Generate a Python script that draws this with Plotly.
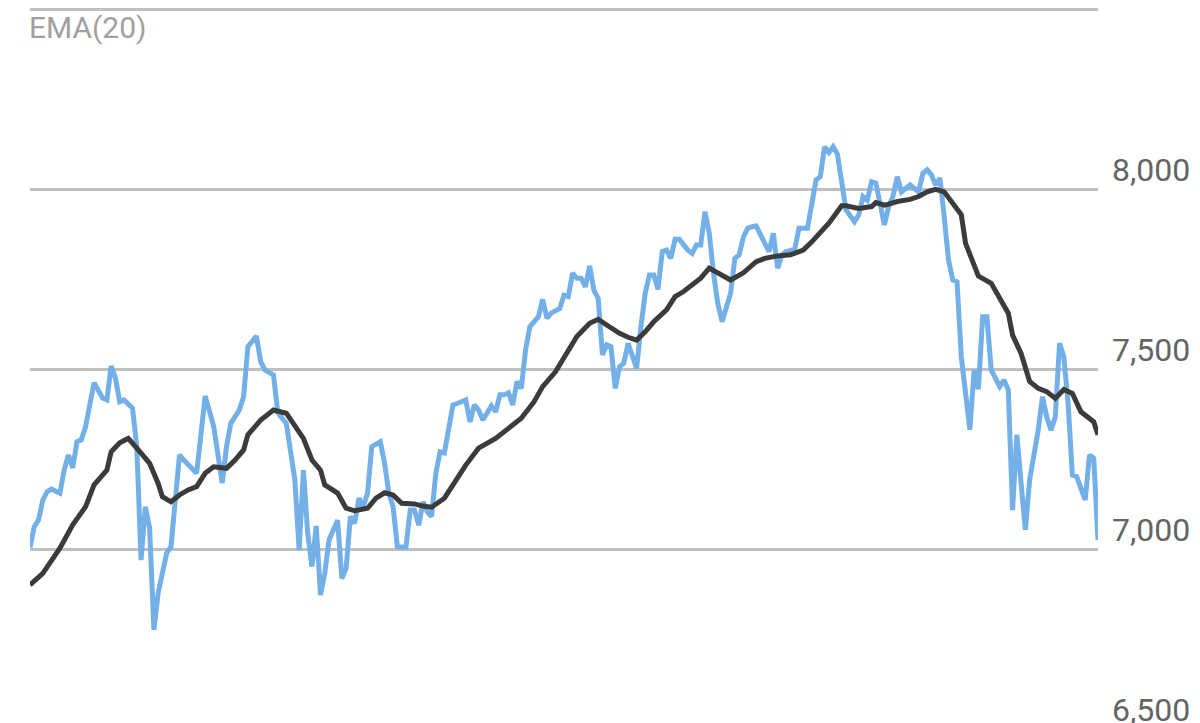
import plotly.graph_objects as go

# Trading-day index (0..250) and price (blue line)
price_day = [0, 1, 2, 3, 4, 5, 7, 8, 9, 10, 11, 12, 13, 14, 15, 17, 18, 19, 20, 21,
             22, 24, 25, 26, 27, 28, 29, 30, 32, 33, 34, 35, 36, 37, 39, 40, 41, 43, 44, 45,
             46, 47, 49, 50, 51, 53, 54, 55, 57, 58, 59, 60, 62, 63, 64, 65, 66, 67, 68, 69,
             70, 72, 73, 74, 75, 76, 77, 78, 79, 80, 82, 83, 84, 85, 86, 88, 89, 90, 91, 92,
             93, 94, 95, 96, 97, 98, 99, 100, 102, 103, 104, 105, 106, 108, 109, 110, 111, 112, 113, 114,
             115, 116, 117, 119, 120, 121, 122, 124, 125, 126, 127, 128, 129, 130, 131, 132, 133, 134, 135, 136,
             137, 138, 139, 140, 142, 143, 144, 145, 146, 147, 148, 149, 150, 151, 152, 154, 155, 156, 157, 158,
             159, 160, 161, 162, 163, 164, 165, 166, 167, 168, 169, 170, 172, 173, 174, 175, 176, 177, 179, 180,
             182, 183, 184, 185, 186, 187, 188, 189, 190, 191, 193, 194, 195, 196, 197, 198, 200, 201, 202, 203,
             204, 206, 208, 209, 210, 211, 212, 213, 214, 215, 216, 217, 218, 219, 220, 221, 222, 223, 224, 225,
             227, 228, 229, 230, 231, 232, 233, 234, 236, 237, 238, 239, 240, 241, 242, 243, 244, 245, 247, 248,
             249, 250]
price = [7005, 7063, 7081, 7137, 7160, 7167, 7156, 7220, 7262, 7226, 7299, 7304, 7340, 7406, 7463, 7420, 7415, 7509, 7476, 7410,
         7415, 7392, 7285, 6970, 7118, 7059, 6776, 6879, 6990, 7007, 7156, 7262, 7248, 7234, 7211, 7317, 7426, 7341, 7262, 7184,
         7285, 7350, 7387, 7424, 7563, 7592, 7521, 7498, 7484, 7380, 7364, 7350, 7193, 6998, 7220, 7045, 6952, 7065, 6873, 6933,
         7026, 7081, 6919, 6947, 7091, 7072, 7142, 7118, 7156, 7285, 7299, 7239, 7156, 7118, 7007, 7006, 7109, 7109, 7067, 7132,
         7104, 7091, 7211, 7271, 7268, 7331, 7401, 7405, 7415, 7354, 7401, 7387, 7359, 7398, 7382, 7429, 7429, 7435, 7401, 7466,
         7447, 7554, 7618, 7646, 7694, 7642, 7656, 7669, 7706, 7702, 7767, 7753, 7753, 7729, 7787, 7720, 7697, 7540, 7568, 7563,
         7447, 7507, 7517, 7572, 7503, 7618, 7711, 7762, 7762, 7722, 7827, 7831, 7808, 7861, 7861, 7831, 7822, 7845, 7845, 7938,
         7878, 7767, 7683, 7632, 7674, 7711, 7808, 7818, 7868, 7892, 7896, 7898, 7850, 7827, 7878, 7781, 7818, 7827, 7833, 7892,
         7892, 7961, 8026, 8035, 8118, 8102, 8118, 8098, 8026, 7943, 7910, 7929, 7980, 7970, 8021, 8017, 7901, 7952, 7980, 8035,
         7993, 8012, 7993, 8044, 8054, 8040, 8012, 8031, 7924, 7804, 7748, 7743, 7535, 7424, 7332, 7498, 7445, 7646, 7646, 7498,
         7452, 7470, 7443, 7109, 7318, 7183, 7054, 7193, 7331, 7424, 7368, 7331, 7368, 7572, 7535, 7406, 7206, 7202, 7137, 7262,
         7253, 7026]

# EMA(20) (dark line)
ema_day = [0, 3, 7, 10, 13, 15, 18, 19, 21, 23, 26, 28, 30, 31, 33, 35, 37, 39, 41, 43,
           46, 48, 50, 51, 54, 57, 60, 63, 64, 66, 68, 69, 72, 74, 76, 79, 81, 83, 85, 87,
           90, 92, 94, 97, 99, 101, 102, 105, 109, 112, 115, 118, 120, 123, 126, 128, 131, 133, 135, 138,
           140, 142, 144, 146, 149, 151, 153, 157, 159, 162, 164, 167, 170, 172, 175, 178, 181, 183, 187, 190,
           191, 194, 197, 198, 200, 201, 203, 206, 208, 210, 212, 214, 216, 218, 219, 221, 222, 225, 227, 229,
           230, 232, 234, 236, 238, 240, 242, 244, 246, 249, 250]
ema = [6901, 6933, 7003, 7068, 7118, 7179, 7220, 7271, 7296, 7308, 7267, 7239, 7183, 7146, 7132, 7151, 7165, 7174, 7211, 7229,
       7225, 7248, 7276, 7318, 7359, 7387, 7378, 7327, 7308, 7248, 7220, 7179, 7156, 7114, 7107, 7114, 7142, 7157, 7151, 7128,
       7126, 7120, 7117, 7142, 7179, 7216, 7234, 7281, 7308, 7336, 7364, 7410, 7452, 7493, 7549, 7591, 7628, 7639, 7623, 7600,
       7589, 7581, 7604, 7632, 7665, 7702, 7716, 7753, 7781, 7762, 7748, 7768, 7799, 7808, 7815, 7818, 7831, 7854, 7906, 7954,
       7954, 7947, 7952, 7963, 7956, 7959, 7966, 7972, 7980, 7993, 8000, 7993, 7961, 7929, 7850, 7785, 7759, 7739, 7697, 7656,
       7595, 7544, 7466, 7447, 7438, 7419, 7444, 7433, 7382, 7354, 7318]

tick_values = [6500, 7000, 7500, 8000]
tick_text = ["6,500", "7,000", "7,500", "8,000"]
y_range = [6517.5, 8503.6]

fig = go.Figure()
fig.add_trace(go.Scatter(x=price_day, y=price, mode="lines",
                         line=dict(color="#74b0e8", width=5), hoverinfo="skip"))
fig.add_trace(go.Scatter(x=ema_day, y=ema, mode="lines",
                         line=dict(color="#3b3b3b", width=5), hoverinfo="skip"))

annotations = []
for v, t in zip(tick_values, tick_text):
    if v >= y_range[0]:
        yv, yr = v, "y"
    else:
        yv, yr = (v - y_range[0]) / (y_range[1] - y_range[0]), "paper"
    annotations.append(dict(x=1, xref="paper", y=yv, yref=yr, text=t, showarrow=False,
                            xanchor="left", yanchor="middle", xshift=12, yshift=19,
                            font=dict(family="Roboto", size=32, color="#646464")))
annotations.append(dict(x=0, xref="paper", y=1, yref="paper", text="EMA(20)", showarrow=False,
                        xanchor="left", yanchor="middle", xshift=-3, yshift=-19,
                        font=dict(family="Roboto", size=30, color="#a0a0a0")))

fig.update_layout(
    width=1192, height=715,
    margin=dict(l=22, r=102, t=0, b=0),
    paper_bgcolor="white", plot_bgcolor="white",
    showlegend=False,
    annotations=annotations,
    shapes=[dict(type="line", xref="paper", yref="paper", x0=0, x1=1, y0=0.998, y1=0.998,
                 line=dict(color="#c0c0c0", width=3), layer="below")],
)
fig.update_xaxes(range=[0, 250], showgrid=False, zeroline=False, showticklabels=False,
                 showline=False, ticks="")
fig.update_yaxes(range=y_range, tickvals=[7000, 7500, 8000], showticklabels=False,
                 showgrid=True, gridcolor="#c0c0c0", gridwidth=2.5, zeroline=False,
                 showline=False, ticks="")

fig.write_html("out.html")
